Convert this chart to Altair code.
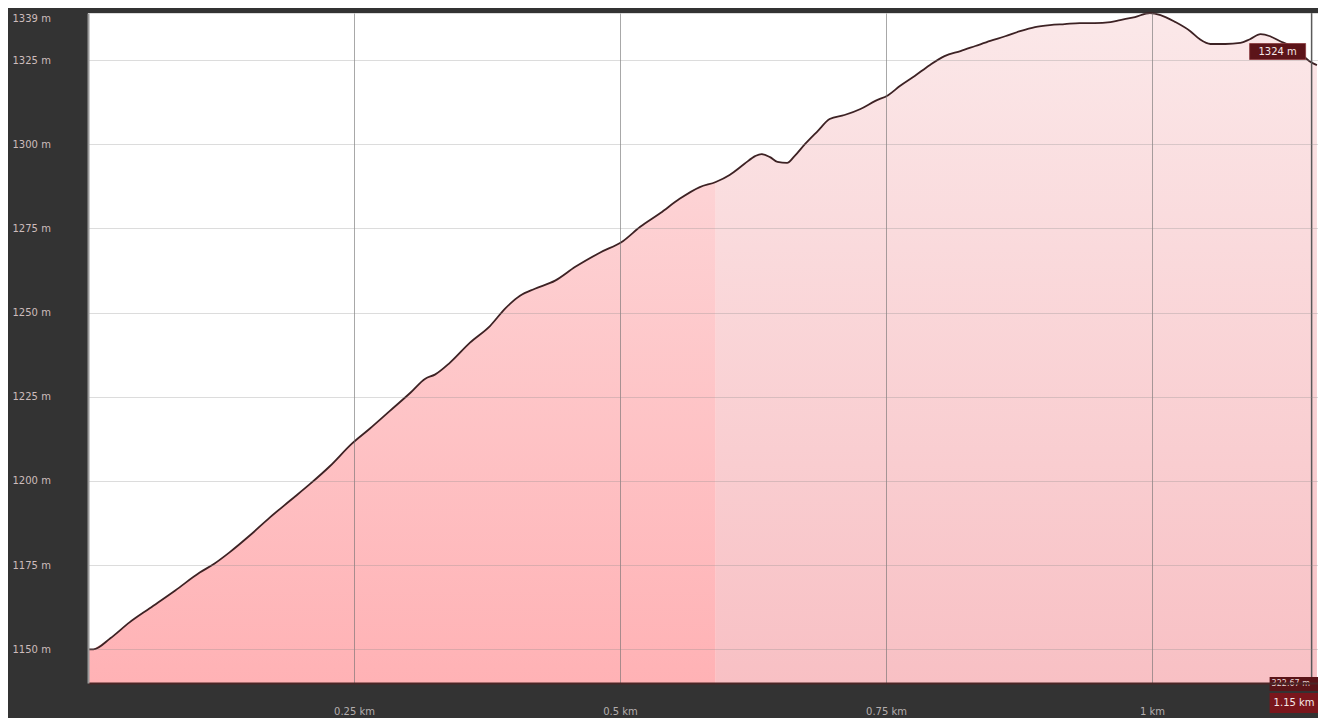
import altair as alt
import pandas as pd

# distance along the track (km) and elevation (m), read from the profile
dist_km = [0, 0.005, 0.021, 0.039, 0.058, 0.082, 0.105, 0.119, 0.133, 0.152,
           0.171, 0.190, 0.209, 0.227, 0.248, 0.265, 0.284, 0.303, 0.317, 0.326,
           0.340, 0.359, 0.378, 0.392, 0.406, 0.420, 0.439, 0.458, 0.481, 0.503,
           0.519, 0.538, 0.556, 0.575, 0.590, 0.603, 0.617, 0.627, 0.633, 0.641,
           0.648, 0.657, 0.664, 0.674, 0.686, 0.697, 0.711, 0.726, 0.740, 0.752,
           0.763, 0.777, 0.791, 0.805, 0.820, 0.834, 0.848, 0.862, 0.876, 0.890,
           0.904, 0.918, 0.932, 0.946, 0.961, 0.970, 0.984, 0.998, 1.008, 1.022,
           1.036, 1.045, 1.055, 1.069, 1.083, 1.092, 1.102, 1.111, 1.120, 1.130,
           1.139, 1.148, 1.155]
elev_m = [1150, 1150, 1153.3, 1158, 1162.2, 1167.5, 1172.8, 1175.5, 1178.8, 1183.8,
          1189.2, 1194.2, 1199.2, 1204.3, 1211.1, 1215.6, 1220.9, 1226.2, 1230.4, 1231.6,
          1235.1, 1241.1, 1246.1, 1251.2, 1255.0, 1257.1, 1259.5, 1263.6, 1267.8, 1271.3,
          1275.5, 1279.6, 1283.8, 1287.3, 1288.8, 1290.9, 1294.2, 1296.5, 1297.1, 1296.2,
          1294.8, 1294.5, 1296.5, 1300.1, 1304.0, 1307.5, 1308.7, 1310.5, 1312.9, 1314.6,
          1317.3, 1320.3, 1323.5, 1326.2, 1327.7, 1329.2, 1330.7, 1332.1, 1333.6, 1334.8,
          1335.4, 1335.7, 1336.0, 1336.0, 1336.3, 1336.9, 1337.8, 1339.0, 1338.4, 1336.3,
          1333.6, 1331.2, 1329.8, 1329.8, 1330.1, 1331.2, 1332.7, 1332.1, 1330.7, 1329.2,
          1327.1, 1324.7, 1323.5]

y_ticks = [1150, 1175, 1200, 1225, 1250, 1275, 1300, 1325, 1339]
x_ticks = [0.25, 0.5, 0.75, 1.0]
x_domain = [0, 1.156]
y_domain = [1140, 1339]
split_km = 0.59

cursor_km = [1.15]
cursor_elev = [1324]
cursor_label = ["1324 m"]
cursor_dist_label = ["1.15 km"]
cursor_extra_label = ["322.67 m"]

df = pd.DataFrame({"km": dist_km, "elev": elev_m})
left = df[df["km"] <= split_km]
right = df[df["km"] >= split_km]
cur = pd.DataFrame({"km": cursor_km, "elev": cursor_elev, "label": cursor_label,
                    "dist": cursor_dist_label, "extra": cursor_extra_label,
                    "base": [y_domain[0]]})

xscale = alt.Scale(domain=x_domain, nice=False, zero=False)
yscale = alt.Scale(domain=y_domain, nice=False, zero=False)

x_axis = alt.Axis(values=x_ticks, labelExpr="datum.value + ' km'", title=None,
                  grid=True, gridColor="#6e6e6e", gridOpacity=0.6, gridWidth=1,
                  ticks=False, tickSize=0, labelPadding=23, labelColor="#b3aeae",
                  labelFontSize=10, labelFont="DejaVu Sans", domain=True,
                  domainColor="#4a2626", domainWidth=2, zindex=1)
y_axis = alt.Axis(values=y_ticks, labelExpr="datum.value + ' m'", title=None,
                  grid=True, gridColor="#8a8a8a", gridOpacity=0.3, gridWidth=1,
                  ticks=False, tickSize=0, labelAlign="left", labelPadding=76,
                  labelColor="#cdbcbc", labelFontSize=10, labelFont="DejaVu Sans",
                  labelFlush=True, domain=True, domainColor="#9a9a9a", domainWidth=2,
                  zindex=1)

X = alt.X("km:Q", scale=xscale, axis=x_axis)
Y = alt.Y("elev:Q", scale=yscale, axis=y_axis)

grad_left = alt.Gradient(gradient="linear",
                         stops=[alt.GradientStop(color="#ffb2b5", offset=0),
                                alt.GradientStop(color="#fdd3d5", offset=1)],
                         x1=0, x2=0, y1=1, y2=0)
grad_right = alt.Gradient(gradient="linear",
                          stops=[alt.GradientStop(color="#f8c0c4", offset=0),
                                 alt.GradientStop(color="#fbe8e9", offset=1)],
                          x1=0, x2=0, y1=1, y2=0)

area_left = alt.Chart(left).mark_area(color=grad_left).encode(
    x=X, y=Y, y2=alt.datum(y_domain[0]))
area_right = alt.Chart(right).mark_area(color=grad_right).encode(
    x=X, y=Y, y2=alt.datum(y_domain[0]))
line = alt.Chart(df).mark_line(color="#3d2224", strokeWidth=1.8,
                               interpolate="monotone").encode(x=X, y=Y)

rule = alt.Chart(cur).mark_rule(color="#5a5a5a", strokeWidth=1.5).encode(x=X)

tip_box = alt.Chart(cur).mark_rect(color="#5c1419", stroke="#8a3a3e", strokeWidth=0.8,
                                   xOffset=-62, x2Offset=-6, yOffset=-20, y2Offset=-4).encode(
    x=X, x2="km:Q", y=Y, y2="elev:Q")
tip_text = alt.Chart(cur).mark_text(color="#f4e8e8", fontSize=10, font="DejaVu Sans",
                                    dx=-34, dy=-12).encode(x=X, y=Y, text="label:N")

extra_box = alt.Chart(cur).mark_rect(color="#5a1418", xOffset=-42, x2Offset=7,
                                     yOffset=-6, y2Offset=8).encode(
    x=X, x2="km:Q", y=alt.Y("base:Q", scale=yscale), y2="base:Q")
extra_text = alt.Chart(cur).mark_text(color="#e8d8d8", fontSize=8, font="DejaVu Sans",
                                      align="left", dx=-40, dy=1).encode(
    x=X, y=alt.Y("base:Q", scale=yscale), text="extra:N")
dist_box = alt.Chart(cur).mark_rect(color="#7a161c", xOffset=-42, x2Offset=7,
                                    yOffset=10, y2Offset=30).encode(
    x=X, x2="km:Q", y=alt.Y("base:Q", scale=yscale), y2="base:Q")
dist_text = alt.Chart(cur).mark_text(color="#f4e8e8", fontSize=10, font="DejaVu Sans",
                                     align="left", dx=-38, dy=20).encode(
    x=X, y=alt.Y("base:Q", scale=yscale), text="dist:N")

chart = alt.layer(area_left, area_right, line, rule, tip_box, tip_text,
                  extra_box, extra_text, dist_box, dist_text).properties(
    width=1230, height=670,
    padding={"left": 80, "top": 5, "right": 0, "bottom": 35},
    autosize=alt.AutoSizeParams(type="none"),
).configure(background="#333333").configure_view(fill="white", stroke=None)

chart.save("out.html", embed_options={"renderer": "svg", "actions": False})
